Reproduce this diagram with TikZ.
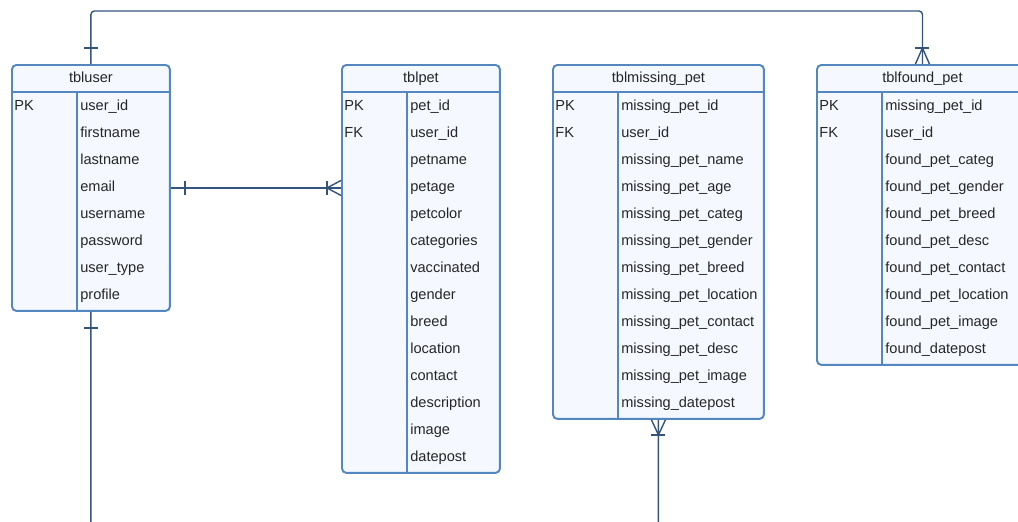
\documentclass[tikz,border=0pt]{standalone}
\usepackage{fontspec}
\setmainfont{Liberation Sans}
\usetikzlibrary{positioning}
\definecolor{erblue}{RGB}{84,134,192}
\definecolor{erline}{RGB}{52,84,124}
\definecolor{erfill}{RGB}{245,249,255}
\definecolor{ertext}{RGB}{38,38,38}
\tikzset{
    tblbox/.style={draw=erblue, line width=1.1pt, fill=erfill, rounded corners=2.5pt, anchor=north west, inner sep=0pt},
    tblrule/.style={draw=erblue, line width=1.1pt},
    tbltitle/.style={font=\fontsize{8.3}{10}\selectfont, text=ertext, inner sep=0pt, text height=6pt, text depth=1.8pt},
    fieldtxt/.style={font=\fontsize{8.3}{10}\selectfont, text=ertext, anchor=west, inner sep=0pt, text height=6pt, text depth=1.8pt},
    rel/.style={draw=erline, line width=0.8pt}
}

\begin{document}
\begin{tikzpicture}[x=0.02cm, y=-0.02cm]
    \clip (0,0) rectangle (1018,521);

    % tables
    \node[tblbox, minimum width=3.16cm, minimum height=4.92cm] (user) at (11,64) {};
    \node[tblbox, minimum width=3.16cm, minimum height=8.16cm] (pet) at (341,64) {};
    \node[tblbox, minimum width=4.22cm, minimum height=7.08cm] (missing) at (552,64) {};
    \node[tblbox, minimum width=4.22cm, minimum height=6.00cm] (found) at (816,64) {};

    \foreach \t/\name in {user/tbluser, pet/tblpet, missing/tblmissing\_pet, found/tblfound\_pet} {
        \node[tbltitle] (\t title) at ([yshift=-0.29cm]\t.north) {\name};
        \draw[tblrule] ([yshift=-0.56cm]\t.north west) -- ([yshift=-0.56cm]\t.north east);
        \draw[tblrule] ([shift={(1.32cm,-0.56cm)}]\t.north west) -- ([xshift=1.32cm]\t.south west);
    }

    % keys
    \node[fieldtxt] (userpk) at ([shift={(0.06cm,-0.86cm)}]user.north west) {PK};
    \node[fieldtxt] (petpk) at ([shift={(0.06cm,-0.86cm)}]pet.north west) {PK};
    \node[fieldtxt] (petfk) at ([shift={(0.06cm,-1.40cm)}]pet.north west) {FK};
    \node[fieldtxt] (missingpk) at ([shift={(0.06cm,-0.86cm)}]missing.north west) {PK};
    \node[fieldtxt] (missingfk) at ([shift={(0.06cm,-1.40cm)}]missing.north west) {FK};
    \node[fieldtxt] (foundpk) at ([shift={(0.06cm,-0.86cm)}]found.north west) {PK};
    \node[fieldtxt] (foundfk) at ([shift={(0.06cm,-1.40cm)}]found.north west) {FK};

    % fields
    \foreach \f [count=\i from 0] in {user\_id, firstname, lastname, email, username, password, user\_type, profile}
        \node[fieldtxt] (userf\i) at ([shift={(1.38cm,{-0.86cm-\i*0.54cm})}]user.north west) {\f};
    \foreach \f [count=\i from 0] in {pet\_id, user\_id, petname, petage, petcolor, categories, vaccinated, gender, breed, location, contact, description, image, datepost}
        \node[fieldtxt] (petf\i) at ([shift={(1.38cm,{-0.86cm-\i*0.54cm})}]pet.north west) {\f};
    \foreach \f [count=\i from 0] in {missing\_pet\_id, user\_id, missing\_pet\_name, missing\_pet\_age, missing\_pet\_categ, missing\_pet\_gender, missing\_pet\_breed, missing\_pet\_location, missing\_pet\_contact, missing\_pet\_desc, missing\_pet\_image, missing\_datepost}
        \node[fieldtxt] (missingf\i) at ([shift={(1.38cm,{-0.86cm-\i*0.54cm})}]missing.north west) {\f};
    \foreach \f [count=\i from 0] in {missing\_pet\_id, user\_id, found\_pet\_categ, found\_pet\_gender, found\_pet\_breed, found\_pet\_desc, found\_pet\_contact, found\_pet\_location, found\_pet\_image, found\_datepost}
        \node[fieldtxt] (foundf\i) at ([shift={(1.38cm,{-0.86cm-\i*0.54cm})}]found.north west) {\f};

    % relationships
    \coordinate (petend) at (user.east -| pet.west);
    \draw[rel, rounded corners=2pt] (user.north) -- ++(0,-53) -| (found.north);
    \draw[rel] (user.east) -- (petend);
    \draw[rel, rounded corners=2pt] (user.south) -- ++(0,260) -| (missing.south);

    % one marks
    \draw[rel] ([shift={(-0.14cm,0.32cm)}]user.north) -- ([shift={(0.14cm,0.32cm)}]user.north);
    \draw[rel] ([shift={(0.28cm,0.14cm)}]user.east) -- ([shift={(0.28cm,-0.14cm)}]user.east);
    \draw[rel] ([shift={(-0.14cm,-0.32cm)}]user.south) -- ([shift={(0.14cm,-0.32cm)}]user.south);

    % many marks
    \draw[rel] ([shift={(-0.14cm,0.32cm)}]found.north) -- ([shift={(0.14cm,0.32cm)}]found.north);
    \draw[rel] ([xshift=-0.14cm]found.north) -- ([yshift=0.32cm]found.north) -- ([xshift=0.14cm]found.north);
    \draw[rel] ([shift={(-0.28cm,0.14cm)}]petend) -- ([shift={(-0.28cm,-0.14cm)}]petend);
    \draw[rel] ([yshift=0.15cm]petend) -- ([xshift=-0.28cm]petend) -- ([yshift=-0.15cm]petend);
    \draw[rel] ([shift={(-0.14cm,-0.30cm)}]missing.south) -- ([shift={(0.14cm,-0.30cm)}]missing.south);
    \draw[rel] ([xshift=-0.14cm]missing.south) -- ([yshift=-0.30cm]missing.south) -- ([xshift=0.14cm]missing.south);
\end{tikzpicture}
\end{document}
